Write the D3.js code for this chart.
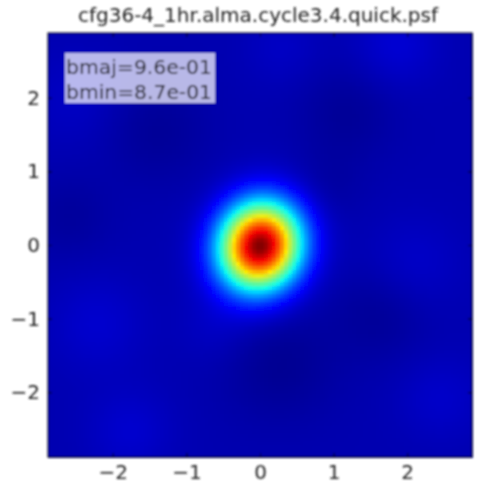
<!DOCTYPE html>
<html>

<head>
  <meta charset="utf-8">
  <style>
    body {
      margin: 0;
      background: #fff;
    }

    svg text {
      font-family: "DejaVu Sans", sans-serif;
    }

    .tick text {
      font-size: 20px;
      fill: #222;
    }
  </style>
</head>

<body>
  <svg id="chart" width="486" height="492"></svg>

  <script src="https://d3js.org/d3.v7.min.js"></script>
  <script>
    // image title and beam fit (arcsec)
    var title = 'cfg36-4_1hr.alma.cycle3.4.quick.psf';
    var bmaj = 0.96,
      bmin = 0.87,
      beamAngle = 70; // degrees from x axis, read by eye
    var beamLabels = ['bmaj=9.6e-01', 'bmin=8.7e-01'];

    // axis extent and ticks
    var extent = [-2.88, 2.88];
    var tickValues = [-2, -1, 0, 1, 2];

    // faint sidelobes in the background
    var lobeX = [1.86, -2.21, -1.77, 2.09, 2.45, -2.5, 0.27, -1.4, 1.18, 1.63, -0.6, 0.9, 0.3, -2.6];
    var lobeY = [2.74, -1.06, -2.51, -0.24, -2.07, 2.0, -1.6, 1.56, 1.79, -0.92, -1.1, 0.8, 2.7, 0.4];
    var lobeAmp = [0.035, 0.03, 0.03, 0.025, 0.025, 0.02, -0.03, -0.025, -0.025, -0.025, 0.02, -0.015, 0.02, -0.02];
    var lobeWidth = [0.4, 0.45, 0.4, 0.45, 0.4, 0.45, 0.55, 0.5, 0.45, 0.45, 0.35, 0.35, 0.35, 0.4];

    var vmin = -0.05,
      vmax = 1;

    var margin = { top: 33, left: 48 },
      size = 424,
      nCells = 106;

    var svg = d3.select('#chart');

    var defs = svg.append('defs');
    defs.append('filter')
      .attr('id', 'soft')
      .attr('x', '-5%').attr('y', '-5%')
      .attr('width', '110%').attr('height', '110%')
      .append('feGaussianBlur')
      .attr('stdDeviation', 1.1);

    var root = svg.append('g').attr('filter', 'url(#soft)');

    var x = d3.scaleLinear().domain(extent).range([margin.left, margin.left + size]);
    var y = d3.scaleLinear().domain(extent).range([margin.top + size, margin.top]);

    var jet = d3.scaleLinear()
      .domain([0, 0.11, 0.125, 0.34, 0.375, 0.64, 0.65, 0.89, 0.91, 1])
      .range(['#00007f', '#0000f0', '#0000ff', '#00dcff', '#0dffe9', '#ffeb00', '#ffda00', '#f70000', '#e80000', '#7f0000'])
      .clamp(true);
    var norm = d3.scaleLinear().domain([vmin, vmax]).range([0, 1]);

    function psf(px, py) {
      var a = beamAngle * Math.PI / 180;
      var u = px * Math.cos(a) + py * Math.sin(a);
      var v = -px * Math.sin(a) + py * Math.cos(a);
      var sMaj = bmaj / 2.3548,
        sMin = bmin / 2.3548;
      var val = Math.exp(-0.5 * (u * u / (sMaj * sMaj) + v * v / (sMin * sMin)));
      for (var i = 0; i < lobeX.length; i++) {
        var dx = px - lobeX[i],
          dy = py - lobeY[i];
        val += lobeAmp[i] * Math.exp(-0.5 * (dx * dx + dy * dy) / (lobeWidth[i] * lobeWidth[i]));
      }
      return val;
    }

    var step = (extent[1] - extent[0]) / nCells;
    var cells = [];
    for (var j = 0; j < nCells; j++) {
      for (var i = 0; i < nCells; i++) {
        var cx = extent[0] + (i + 0.5) * step,
          cy = extent[0] + (j + 0.5) * step;
        cells.push({ x0: extent[0] + i * step, y1: extent[0] + (j + 1) * step, v: psf(cx, cy) });
      }
    }

    root.append('g')
      .attr('shape-rendering', 'crispEdges')
      .selectAll('rect')
      .data(cells)
      .join('rect')
      .attr('x', d => x(d.x0))
      .attr('y', d => y(d.y1))
      .attr('width', x(step) - x(0) + 0.6)
      .attr('height', y(0) - y(step) + 0.6)
      .attr('fill', d => jet(norm(d.v)));

    // axes, ticks pointing inward on all four sides
    var fmt = d3.format('d');
    root.append('g')
      .attr('transform', 'translate(0,' + (margin.top + size) + ')')
      .call(d3.axisBottom(x).tickValues(tickValues).tickFormat(fmt).tickSizeInner(-4).tickSizeOuter(0).tickPadding(8));
    root.append('g')
      .attr('transform', 'translate(0,' + margin.top + ')')
      .call(d3.axisTop(x).tickValues(tickValues).tickFormat('').tickSizeInner(-4).tickSizeOuter(0));
    root.append('g')
      .attr('transform', 'translate(' + margin.left + ',0)')
      .call(d3.axisLeft(y).tickValues(tickValues).tickFormat(fmt).tickSizeInner(-4).tickSizeOuter(0).tickPadding(8));
    root.append('g')
      .attr('transform', 'translate(' + (margin.left + size) + ',0)')
      .call(d3.axisRight(y).tickValues(tickValues).tickFormat('').tickSizeInner(-4).tickSizeOuter(0));
    root.selectAll('.domain').remove();
    root.selectAll('.tick line').attr('stroke', '#000');

    root.append('rect')
      .attr('x', margin.left)
      .attr('y', margin.top)
      .attr('width', size)
      .attr('height', size)
      .attr('fill', 'none')
      .attr('stroke', '#111')
      .attr('stroke-width', 1.2);

    // beam label box
    var box = root.append('g');
    box.append('rect')
      .attr('x', 65).attr('y', 53)
      .attr('width', 150).attr('height', 50)
      .attr('fill', '#fff').attr('fill-opacity', 0.72);
    box.selectAll('text')
      .data(beamLabels)
      .join('text')
      .attr('x', 66)
      .attr('y', (d, i) => 74 + i * 25)
      .attr('font-size', 20)
      .attr('textLength', 146)
      .attr('lengthAdjust', 'spacingAndGlyphs')
      .attr('fill', '#111')
      .text(d => d);

    root.append('text')
      .attr('x', 258)
      .attr('y', 22)
      .attr('text-anchor', 'middle')
      .attr('font-size', 20)
      .attr('fill', '#222')
      .text(title);
  </script>
</body>

</html>
